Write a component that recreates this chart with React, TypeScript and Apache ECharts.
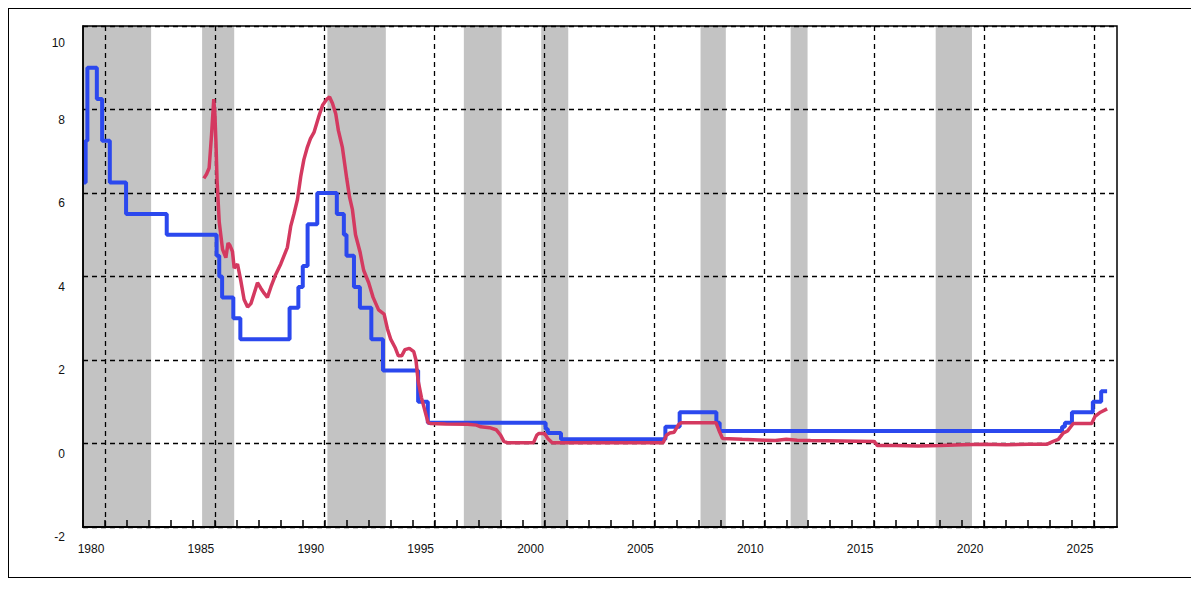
import React, { useEffect, useRef } from "react";
import * as echarts from "echarts";

// Official discount rate (basic loan rate), step changes [year, %]
const DISCOUNT_RATE: [number, number][] = [
  [1980.0, 6.25], [1980.12, 7.25], [1980.2, 9.0], [1980.63, 8.25], [1980.87, 7.25],
  [1981.22, 6.25], [1981.96, 5.5], [1983.81, 5.0], [1986.08, 4.5], [1986.2, 4.0],
  [1986.33, 3.5], [1986.84, 3.0], [1987.16, 2.5], [1989.4, 3.25], [1989.8, 3.75],
  [1990.0, 4.25], [1990.22, 5.25], [1990.66, 6.0], [1991.55, 5.5], [1991.87, 5.0],
  [1991.99, 4.5], [1992.33, 3.75], [1992.6, 3.25], [1993.12, 2.5], [1993.65, 1.75],
  [1995.25, 1.0], [1995.69, 0.5], [2001.05, 0.35], [2001.15, 0.25], [2001.75, 0.1],
  [2006.5, 0.4], [2007.15, 0.75], [2008.82, 0.5], [2008.97, 0.3], [2024.55, 0.4],
  [2024.68, 0.5], [2025.0, 0.75], [2025.95, 1.0], [2026.33, 1.25], [2026.6, 1.25],
];

// Overnight call rate [year, %]
const CALL_RATE: [number, number][] = [
  [1985.5, 6.35], [1985.62, 6.45], [1985.74, 6.6], [1985.85, 7.4], [1985.95, 8.25],
  [1986.0, 7.9], [1986.05, 7.2], [1986.1, 6.3], [1986.2, 5.3], [1986.35, 4.65],
  [1986.5, 4.45], [1986.6, 4.8], [1986.68, 4.75], [1986.8, 4.6], [1986.88, 4.2],
  [1987.03, 4.3], [1987.18, 3.9], [1987.33, 3.45], [1987.49, 3.27], [1987.64, 3.35],
  [1987.79, 3.6], [1987.94, 3.85], [1988.09, 3.72], [1988.24, 3.6], [1988.39, 3.5],
  [1988.55, 3.75], [1988.77, 4.05], [1989.0, 4.3], [1989.3, 4.7], [1989.45, 5.2],
  [1989.6, 5.5], [1989.76, 5.85], [1989.91, 6.4], [1990.05, 6.8], [1990.21, 7.1],
  [1990.35, 7.3], [1990.51, 7.45], [1990.74, 7.85], [1990.9, 8.1], [1991.1, 8.25],
  [1991.22, 8.3], [1991.35, 8.15], [1991.5, 7.9], [1991.62, 7.5], [1991.8, 7.1],
  [1992.0, 6.35], [1992.13, 5.9], [1992.26, 5.6], [1992.4, 5.0], [1992.6, 4.6],
  [1992.77, 4.15], [1993.0, 3.85], [1993.2, 3.5], [1993.45, 3.2], [1993.7, 3.1],
  [1993.85, 2.75], [1994.0, 2.5], [1994.2, 2.3], [1994.35, 2.1], [1994.5, 2.1],
  [1994.65, 2.25], [1994.85, 2.28], [1995.05, 2.2], [1995.15, 2.0], [1995.25, 1.5],
  [1995.4, 1.1], [1995.55, 0.8], [1995.7, 0.5], [1995.82, 0.48], [1996.5, 0.47],
  [1997.5, 0.46], [1997.9, 0.44], [1998.1, 0.4], [1998.5, 0.38], [1998.8, 0.33],
  [1999.0, 0.2], [1999.15, 0.05], [1999.3, 0.02], [2000.5, 0.02], [2000.65, 0.2],
  [2000.75, 0.24], [2001.0, 0.24], [2001.15, 0.12], [2001.35, 0.02], [2006.4, 0.02],
  [2006.55, 0.2], [2006.7, 0.25], [2006.9, 0.27], [2007.1, 0.45], [2007.22, 0.5],
  [2008.8, 0.5], [2008.95, 0.3], [2009.1, 0.12], [2010.0, 0.1], [2011.0, 0.08],
  [2011.5, 0.07], [2012.0, 0.1], [2012.5, 0.08], [2013.1, 0.07], [2016.0, 0.05],
  [2016.15, -0.05], [2017.0, -0.05], [2018.0, -0.06], [2019.0, -0.05], [2020.0, -0.03],
  [2021.0, -0.02], [2022.0, -0.03], [2023.0, -0.02], [2023.85, -0.02], [2024.15, 0.05],
  [2024.38, 0.1], [2024.6, 0.25], [2024.8, 0.3], [2025.06, 0.48], [2025.9, 0.48],
  [2026.05, 0.65], [2026.3, 0.75], [2026.6, 0.83],
];

// Recession periods [start, end]
const RECESSIONS: [number, number][] = [
  [1980.0, 1983.1], [1985.42, 1986.88], [1991.12, 1993.78], [1997.33, 1999.05],
  [2000.85, 2002.08], [2008.1, 2009.25], [2012.2, 2012.97], [2018.8, 2020.45],
];

const GRID_YEARS = [1981, 1986, 1991, 1996, 2001, 2006, 2011, 2016, 2021, 2026];
const LABEL_YEARS = [1980, 1985, 1990, 1995, 2000, 2005, 2010, 2015, 2020, 2025];
const TICK_YEARS = [
  1980, 1981, 1982, 1983, 1984, 1985, 1986, 1987, 1988, 1989, 1990, 1991, 1992,
  1993, 1994, 1995, 1996, 1997, 1998, 1999, 2000, 2001, 2002, 2003, 2004, 2005,
  2006, 2007, 2008, 2009, 2010, 2011, 2012, 2013, 2014, 2015, 2016, 2017, 2018,
  2019, 2020, 2021, 2022, 2023, 2024, 2025, 2026,
];

const X_MIN = 1980;
const X_MAX = 2027.05;
const FONT = "Liberation Sans";

export default function App() {
  const ref = useRef<HTMLDivElement>(null);

  useEffect(() => {
    if (!ref.current) return;
    const chart = echarts.init(ref.current, undefined, { renderer: "svg" });
    chart.setOption({
      animation: false,
      backgroundColor: "#fff",
      grid: {
        left: 74,
        top: 17,
        right: 75,
        bottom: 50,
        show: true,
        borderColor: "#000",
        borderWidth: 1.5,
        backgroundColor: "transparent",
        z: 3,
      },
      xAxis: [
        {
          type: "value",
          min: X_MIN,
          max: X_MAX,
          position: "bottom",
          z: 1.5,
          axisLine: { show: true, onZero: false, lineStyle: { color: "#000", width: 2 } },
          axisTick: {
            show: true,
            inside: true,
            length: 7,
            customValues: TICK_YEARS,
            lineStyle: { color: "#000", width: 1.5 },
          },
          axisLabel: {
            show: true,
            customValues: LABEL_YEARS,
            margin: 16,
            padding: [0, 0, 0, 16],
            color: "#111",
            fontSize: 12,
            fontFamily: FONT,
            formatter: (v: number) => String(Math.round(v)),
          },
          splitLine: { show: false },
        },
        {
          type: "value",
          min: X_MIN,
          max: X_MAX,
          position: "top",
          z: 1.5,
          axisLine: { show: false },
          axisTick: { show: false, customValues: GRID_YEARS },
          axisLabel: { show: false, customValues: GRID_YEARS },
          splitLine: {
            show: true,
            lineStyle: { color: "#000", width: 1.3, type: [5, 4] },
          },
        },
      ],
      yAxis: {
        type: "value",
        min: -2,
        max: 10,
        interval: 2,
        z: 1.5,
        axisLine: { show: true, lineStyle: { color: "#000", width: 1.5 } },
        axisTick: { show: false },
        axisLabel: {
          margin: 18,
          color: "#111",
          fontSize: 12,
          fontFamily: FONT,
          formatter: (v: number) => (v === 10 ? `{t|${v}}` : `{n|${v}}`),
          rich: {
            n: { padding: [20, 0, 0, 0], fontSize: 12, fontFamily: FONT, color: "#111" },
            t: { padding: [34, 0, 0, 0], fontSize: 12, fontFamily: FONT, color: "#111" },
          },
        },
        splitLine: {
          show: true,
          lineStyle: { color: "#000", width: 1.3, type: [5, 4] },
        },
      },
      series: [
        {
          name: "Discount rate",
          type: "line",
          step: "end",
          data: DISCOUNT_RATE,
          showSymbol: false,
          symbol: "none",
          z: 2,
          lineStyle: { color: "#2b48ee", width: 4 },
          markArea: {
            silent: true,
            z: 1,
            itemStyle: { color: "#c3c3c3" },
            data: RECESSIONS.map(([a, b]) => [{ xAxis: a }, { xAxis: b }]),
          },
        },
        {
          name: "Call rate",
          type: "line",
          data: CALL_RATE,
          showSymbol: false,
          symbol: "none",
          z: 2,
          lineStyle: { color: "#d43960", width: 3.5 },
        },
      ],
    });
    return () => chart.dispose();
  }, []);

  return (
    <div
      style={{
        width: 1185,
        height: 570,
        border: "1px solid #000",
        boxSizing: "border-box",
        background: "#fff",
      }}
    >
      <div ref={ref} style={{ width: 1183, height: 568 }} />
    </div>
  );
}
